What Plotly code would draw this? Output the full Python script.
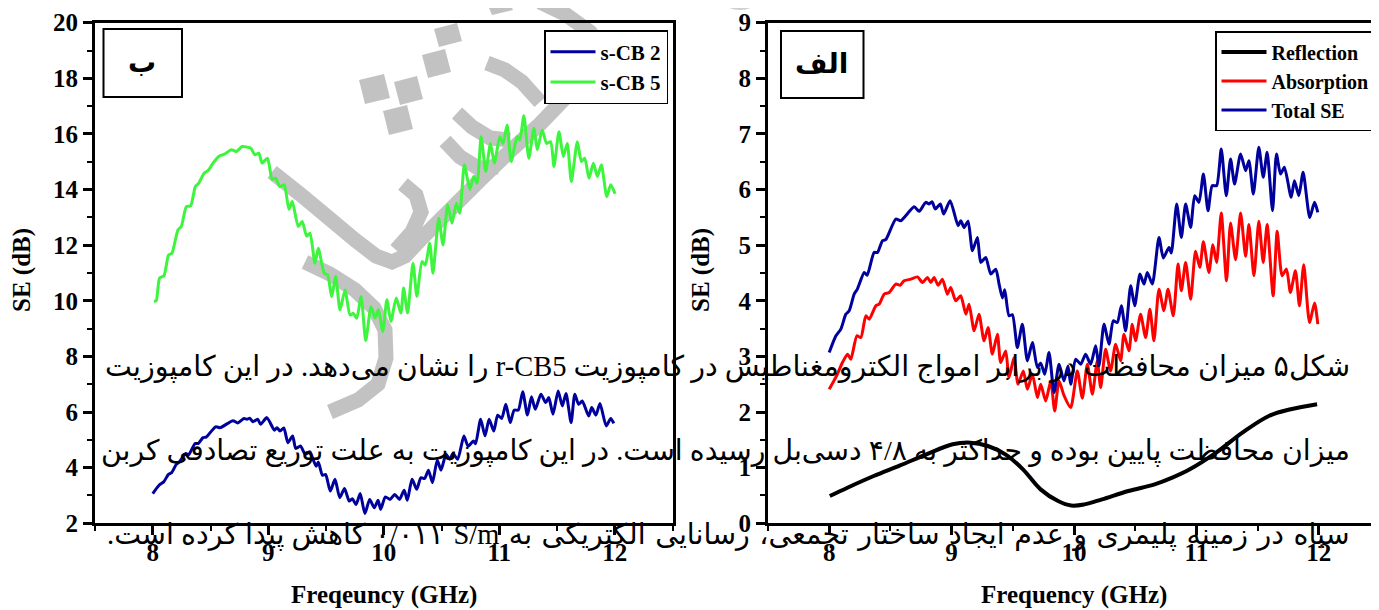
import plotly.graph_objects as go

W, H = 1379, 610

# ---------------- data ----------------
freq_total = [8.000, 8.055, 8.095, 8.136, 8.163, 8.204, 8.230, 8.286, 8.310, 8.367, 8.395, 8.435, 8.462,
              8.544, 8.585, 8.694, 8.735, 8.789, 8.816, 8.840, 8.867, 8.908, 8.935, 8.988, 9.053, 9.075,
              9.102, 9.135, 9.170, 9.211, 9.238, 9.279, 9.320, 9.361, 9.388, 9.415, 9.434, 9.469, 9.497,
              9.537, 9.578, 9.619, 9.660, 9.701, 9.728, 9.761, 9.796, 9.837, 9.878, 9.918, 9.951, 9.973,
              10.014, 10.055, 10.095, 10.136, 10.177, 10.204, 10.245, 10.286, 10.321, 10.354, 10.387,
              10.422, 10.463, 10.496, 10.539, 10.572, 10.599, 10.640, 10.694, 10.730, 10.776, 10.795,
              10.839, 10.877, 10.912, 10.953, 10.986, 11.021, 11.057, 11.095, 11.129, 11.165, 11.203,
              11.244, 11.279, 11.312, 11.361, 11.402, 11.429, 11.465, 11.510, 11.546, 11.578, 11.622,
              11.654, 11.687, 11.719, 11.774, 11.801, 11.837, 11.872, 11.926, 11.965, 11.992]
total_se = [3.07, 3.37, 3.49, 3.76, 3.82, 4.12, 4.21, 4.51, 4.46, 4.87, 4.87, 5.08, 5.10,
            5.47, 5.44, 5.69, 5.61, 5.77, 5.74, 5.78, 5.65, 5.74, 5.56, 5.80, 5.35, 5.44,
            5.32, 5.43, 4.90, 5.14, 4.69, 4.78, 4.48, 4.57, 4.30, 4.05, 4.20, 3.73, 3.75,
            3.16, 3.58, 2.92, 3.25, 2.80, 2.88, 2.68, 3.07, 2.35, 2.86, 2.56, 2.83, 2.50,
            2.95, 2.86, 3.04, 2.86, 3.19, 2.83, 3.58, 3.22, 3.64, 3.61, 3.91,
            3.46, 4.27, 3.91, 4.48, 4.30, 4.51, 4.30, 5.14, 4.77, 4.96, 4.86,
            5.74, 5.14, 5.74, 5.32, 5.89, 5.77, 6.28, 5.62, 6.07, 6.07, 6.73,
            5.89, 6.55, 6.10, 6.64, 6.34, 6.52, 5.92, 6.76, 6.22, 6.67, 5.62,
            6.64, 6.28, 6.40, 5.86, 6.16, 5.89, 6.31, 5.50, 5.77, 5.59]

freq_abs = [8.000, 8.060, 8.110, 8.150, 8.177, 8.226, 8.259, 8.299, 8.327, 8.381, 8.408, 8.449, 8.490,
            8.544, 8.580, 8.612, 8.667, 8.721, 8.762, 8.803, 8.830, 8.857, 8.890, 8.925, 8.966, 8.993,
            9.034, 9.075, 9.116, 9.143, 9.184, 9.224, 9.265, 9.298, 9.333, 9.374, 9.401, 9.442, 9.469,
            9.510, 9.543, 9.586, 9.619, 9.660, 9.701, 9.728, 9.769, 9.810, 9.842, 9.878, 9.918, 9.973,
            10.027, 10.068, 10.109, 10.150, 10.190, 10.218, 10.258, 10.299, 10.340, 10.381, 10.408,
            10.449, 10.476, 10.503, 10.544, 10.585, 10.620, 10.653, 10.694, 10.735, 10.768, 10.811,
            10.850, 10.877, 10.912, 10.953, 10.993, 11.028, 11.057, 11.102, 11.135, 11.165, 11.203,
            11.246, 11.279, 11.320, 11.361, 11.402, 11.429, 11.470, 11.510, 11.546, 11.578, 11.627,
            11.660, 11.700, 11.736, 11.768, 11.809, 11.842, 11.877, 11.924, 11.965, 11.992]
absorption = [2.41, 2.65, 2.90, 3.04, 2.95, 3.37, 3.34, 3.73, 3.67, 3.91, 3.94, 4.12, 4.15,
              4.30, 4.28, 4.36, 4.39, 4.43, 4.33, 4.42, 4.33, 4.42, 4.28, 4.39, 4.12, 4.24,
              4.00, 4.09, 3.76, 3.94, 3.46, 3.76, 3.28, 3.52, 3.04, 3.40, 2.89, 3.10, 2.62,
              2.98, 2.50, 2.74, 2.41, 2.68, 2.26, 2.50, 2.20, 2.56, 2.02, 2.56, 2.30, 2.08,
              2.74, 2.25, 2.86, 2.32, 2.92, 2.44, 3.13, 2.74, 3.22, 2.92, 3.40,
              3.10, 3.58, 3.28, 3.76, 3.34, 3.85, 3.28, 4.21, 3.82, 4.21, 3.73,
              4.66, 4.18, 4.69, 4.03, 4.89, 4.60, 5.06, 4.51, 5.01, 4.69, 5.58,
              4.36, 5.40, 4.74, 5.58, 4.80, 5.37, 4.45, 5.43, 4.69, 5.37, 4.09,
              5.25, 4.45, 4.57, 4.15, 4.54, 3.91, 4.65, 3.61, 3.96, 3.58]

freq_ref = [8.005, 8.149, 8.364, 8.579, 8.794, 9.009, 9.153, 9.296, 9.439, 9.583, 9.727, 9.870,
            9.977, 10.085, 10.229, 10.444, 10.659, 10.803, 10.946, 11.161, 11.376, 11.592, 11.771, 11.986]
reflection = [0.49, 0.64, 0.85, 1.04, 1.24, 1.42, 1.45, 1.39, 1.24, 0.97, 0.61, 0.40,
              0.32, 0.34, 0.43, 0.58, 0.70, 0.82, 0.97, 1.27, 1.63, 1.93, 2.05, 2.14]

freq_scb2 = list(freq_total)
scb2 = list(total_se)

freq_scb5 = [8.010, 8.030, 8.059, 8.097, 8.137, 8.166, 8.218, 8.247, 8.291, 8.328, 8.369, 8.398, 8.444,
             8.479, 8.522, 8.571, 8.623, 8.681, 8.725, 8.774, 8.811, 8.849, 8.884, 8.918, 8.947, 8.993,
             9.034, 9.063, 9.101, 9.138, 9.179, 9.208, 9.260, 9.294, 9.332, 9.361, 9.404, 9.433, 9.485,
             9.514, 9.549, 9.584, 9.621, 9.665, 9.708, 9.737, 9.766, 9.804, 9.844, 9.890, 9.925, 9.954,
             9.992, 10.027, 10.062, 10.108, 10.148, 10.172, 10.206, 10.253, 10.287, 10.331, 10.360,
             10.398, 10.426, 10.476, 10.513, 10.554, 10.591, 10.629, 10.658, 10.698, 10.745, 10.779,
             10.808, 10.843, 10.883, 10.924, 10.958, 11.005, 11.033, 11.068, 11.103, 11.155, 11.178,
             11.213, 11.256, 11.300, 11.329, 11.372, 11.410, 11.445, 11.474, 11.517, 11.555, 11.589,
             11.624, 11.676, 11.711, 11.740, 11.777, 11.815, 11.850, 11.884, 11.931, 11.965, 12.003]
scb5 = [9.98, 10.00, 10.82, 10.90, 11.65, 11.71, 12.55, 12.67, 13.39, 13.41, 14.11, 14.23, 14.59,
        14.68, 14.95, 15.19, 15.28, 15.43, 15.37, 15.55, 15.53, 15.49, 15.25, 15.31, 14.95, 15.13,
        14.37, 14.41, 14.11, 14.17, 13.29, 13.57, 12.67, 12.85, 12.33, 12.43, 11.35, 11.89, 10.99,
        10.93, 10.15, 10.87, 9.67, 10.39, 9.49, 9.55, 9.37, 10.15, 8.57, 9.79, 9.38, 9.68,
        8.90, 10.04, 9.26, 10.10, 9.56, 10.46, 9.56, 11.35, 10.16, 11.41, 11.29,
        12.07, 10.99, 12.97, 12.01, 13.45, 12.79, 13.51, 13.15, 14.89, 14.01, 14.47,
        14.23, 15.90, 14.65, 15.66, 14.95, 15.90, 15.66, 16.32, 15.01, 15.90, 15.78,
        16.65, 15.13, 16.20, 15.43, 16.14, 15.66, 15.72, 14.83, 16.08, 15.19, 15.66,
        14.29, 15.72, 15.01, 15.13, 14.41, 14.95, 14.47, 14.89, 13.75, 14.17, 13.85]

x_ticks = [8, 9, 10, 11, 12]
left_y_ticks = [2, 4, 6, 8, 10, 12, 14, 16, 18, 20]
right_y_ticks = [0, 1, 2, 3, 4, 5, 6, 7, 8, 9]

persian_lines = [
    "شکل۵ میزان محافظت در برابر امواج الکترومغناطیس در کامپوزیت r-CB5 را نشان می‌دهد. در این کامپوزیت",
    "میزان محافظت پایین بوده و حداکثر به ۴/۸ دسی‌بل رسیده است. در این کامپوزیت به علت توزیع تصادفی کربن",
    "سیاه در زمینه پلیمری و عدم ایجاد ساختار تجمعی، رسانایی الکتریکی به S/m\u200f ۰/۰۱۱ کاهش پیدا کرده است.",
]

# ---------------- helpers ----------------
# the page places the figure 8 px from the top-left corner of the window
OFF = 8

def fx(p):
    return (p - OFF) / W

def fy(p):
    return 1 - (p - OFF) / H

SERIF = "Liberation Serif"
BOLD25 = dict(family=SERIF, size=25, color="black", weight="bold")

fig = go.Figure()

line_common = dict(width=3, shape="spline", smoothing=0.6)
fig.add_trace(go.Scatter(x=freq_scb2, y=scb2, name="s-CB 2", mode="lines",
                         line=dict(color="#00009c", **line_common), xaxis="x", yaxis="y", legend="legend"))
fig.add_trace(go.Scatter(x=freq_scb5, y=scb5, name="s-CB 5", mode="lines",
                         line=dict(color="#3cf53c", **line_common), xaxis="x", yaxis="y", legend="legend"))
fig.add_trace(go.Scatter(x=freq_ref, y=reflection, name="Reflection", mode="lines",
                         line=dict(color="black", width=4, shape="spline", smoothing=1.0),
                         xaxis="x2", yaxis="y2", legend="legend2"))
fig.add_trace(go.Scatter(x=freq_abs, y=absorption, name="Absorption", mode="lines",
                         line=dict(color="#ff0000", **line_common), xaxis="x2", yaxis="y2", legend="legend2"))
fig.add_trace(go.Scatter(x=freq_total, y=total_se, name="Total SE", mode="lines",
                         line=dict(color="#00009c", **line_common), xaxis="x2", yaxis="y2", legend="legend2"))

minor_x = dict(dtick=0.5, ticklen=5, tickwidth=2, ticks="outside", tickcolor="black", showgrid=False)

def xaxis_cfg(domain, anchor):
    return dict(domain=domain, anchor=anchor, range=[7.5, 12.5], tickvals=x_ticks,
                ticktext=[str(v) for v in x_ticks], automargin=False,
                showline=True, linecolor="black", linewidth=3, mirror=True,
                ticks="outside", ticklen=9, tickwidth=3, tickcolor="black",
                showgrid=False, zeroline=False, tickfont=BOLD25, ticklabelstandoff=-4,
                minor=minor_x)

def yaxis_cfg(domain, anchor, rng, vals, mdt, mirror):
    return dict(domain=domain, anchor=anchor, range=rng, tickvals=vals,
                ticktext=[str(v) for v in vals], automargin=False,
                showline=True, linecolor="black", linewidth=3, mirror=mirror,
                ticks="outside", ticklen=9, tickwidth=3, tickcolor="black",
                showgrid=False, zeroline=False, tickfont=BOLD25,
                minor=dict(dtick=mdt, ticklen=5, tickwidth=2, ticks="outside", tickcolor="black", showgrid=False))

ydom = [fy(523.3), fy(22.7)]
fig.update_layout(
    width=W, height=H,
    margin=dict(l=0, r=0, t=0, b=0, pad=0, autoexpand=False),
    paper_bgcolor="white", plot_bgcolor="white",
    xaxis=xaxis_cfg([fx(95), fx(672.5)], "y"),
    yaxis=yaxis_cfg(ydom, "x", [2, 20], left_y_ticks, 1, True),
    xaxis2=xaxis_cfg([fx(768), fx(1380)], "y2"),
    yaxis2=yaxis_cfg(ydom, "x2", [0, 9], right_y_ticks, 0.5, False),
    legend=dict(x=fx(668), xanchor="right", y=fy(30), yanchor="top",
                font=dict(family=SERIF, size=21, color="black", weight="bold"),
                bgcolor="white", bordercolor="black", borderwidth=1.5, tracegroupgap=0,
                itemwidth=45),
    legend2=dict(x=fx(1375), xanchor="right", y=fy(31), yanchor="top",
                 font=dict(family=SERIF, size=20, color="black", weight="bold"),
                 bgcolor="white", bordercolor="black", borderwidth=1.5, tracegroupgap=0,
                 itemwidth=45),
    showlegend=True,
)

# ---------------- watermark (decorative grey strokes) ----------------
GREY = "#c2c2c2"

def poly_path(pts, close=False):
    s = "M " + " L ".join(f"{fx(a):.5f},{fy(b):.5f}" for a, b in pts)
    return s + (" Z" if close else "")

strokes = [
    [(272, 172), (300, 194), (330, 219), (355, 240), (376, 256), (392, 262), (405, 256), (420, 240),
     (450, 210), (480, 180), (510, 151), (540, 124), (565, 98), (585, 72), (600, 48)],
    [(305, 262), (330, 274), (355, 290), (374, 308), (385, 330), (386, 358), (378, 384), (358, 400), (330, 412)],
    [(403, 184), (416, 195), (421, 212), (412, 232), (396, 250)],
    [(445, 141), (460, 157), (478, 168), (498, 167)],
    [(457, 113), (472, 127), (490, 138), (510, 140)],
    [(487, 63), (505, 70), (522, 82), (540, 102)],
    [(540, 2), (565, 14), (590, 32), (602, 50)],
]
shapes = []
for s in strokes:
    shapes.append(dict(type="path", xref="paper", yref="paper", path=poly_path(s),
                       line=dict(color=GREY, width=15), fillcolor="rgba(0,0,0,0)", layer="below"))

squares = [
    [(359, 80), (384, 74), (390, 98), (365, 104)],
    [(394, 82), (417, 76), (423, 99), (400, 105)],
    [(383, 111), (407, 105), (413, 129), (389, 135)],
    [(422, 55), (445, 49), (451, 72), (428, 78)],
    [(434, 29), (457, 23), (462, 41), (439, 47)],
    [(489, 8), (510, 3), (513, 10), (492, 15)],
]
for q in squares:
    shapes.append(dict(type="path", xref="paper", yref="paper", path=poly_path(q, True),
                       line=dict(width=0), fillcolor=GREY, layer="below"))
shapes.append(dict(type="circle", xref="paper", yref="paper",
                   x0=fx(712), x1=fx(768), y0=fy(10), y1=fy(-40),
                   line=dict(width=0), fillcolor="#cfcfcf", layer="below"))

# label boxes
shapes.append(dict(type="rect", xref="paper", yref="paper", x0=fx(103.5), x1=fx(182), y0=fy(97), y1=fy(29),
                   line=dict(color="black", width=2)))
shapes.append(dict(type="rect", xref="paper", yref="paper", x0=fx(781), x1=fx(863.5), y0=fy(98), y1=fy(31),
                   line=dict(color="black", width=2)))
fig.update_layout(shapes=shapes)

def note(text, x, y, font, **kw):
    d = dict(text=text, x=fx(x), y=fy(y), xref="paper", yref="paper", showarrow=False,
             xanchor="center", yanchor="middle", font=font)
    d.update(kw)
    return d

ARFONT_B = dict(family=SERIF + ", DejaVu Sans", size=28, color="black", weight="bold")
ann = [
    note("ب", 142, 62, ARFONT_B),
    note("الف", 821, 64, ARFONT_B),
    note("SE (dB)", 22, 270, BOLD25, textangle=-90),
    note("SE (dB)", 701, 270, BOLD25, textangle=-90),
    note("Freqeuncy (GHz)", 384, 595, BOLD25),
    note("Frequency (GHz)", 1074, 595, BOLD25),
]

line_y = [367, 451, 535]
line_sizes = [28.5, 28.3, 28.5]
for i, (t, yy) in enumerate(zip(persian_lines, line_y)):
    if i == 2:
        t = t.replace(" ", " \u200a", 14)
    ann.append(note("\u202b" + t + "\u202c", 1352, yy,
                    dict(family=SERIF + ", DejaVu Sans", size=line_sizes[i], color="black"),
                    xanchor="right"))
fig.update_layout(annotations=ann)

fig.write_html("out.html")
